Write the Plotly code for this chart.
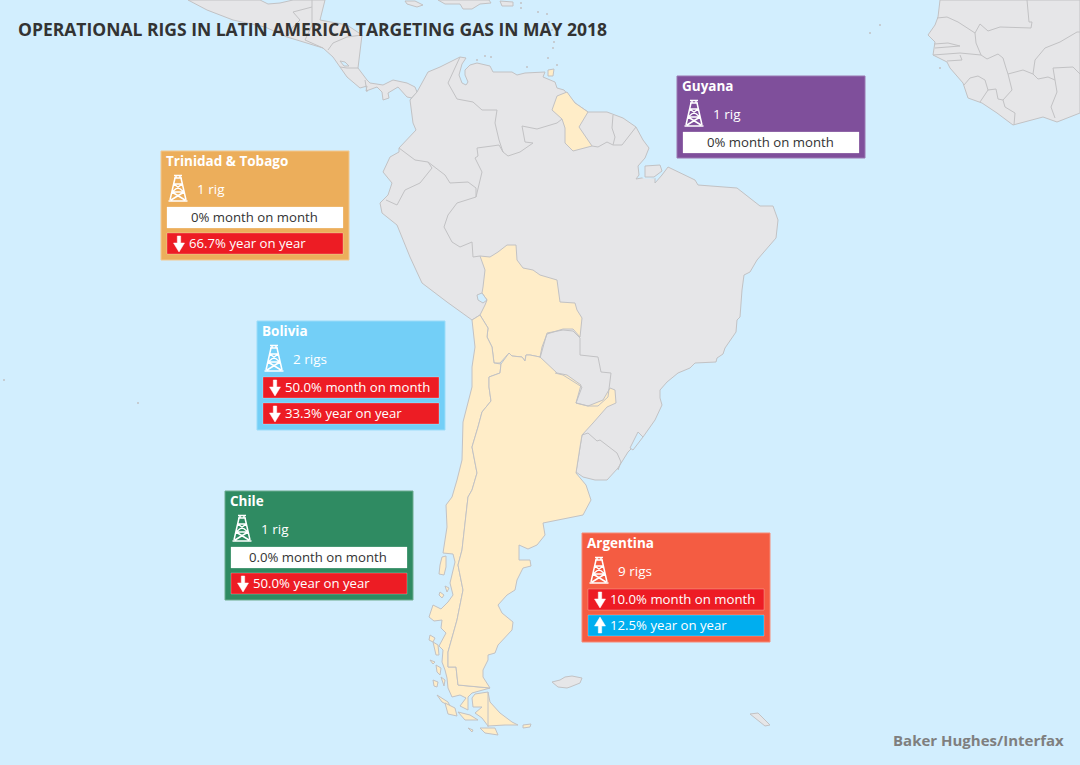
import plotly.graph_objects as go

# Text and values
title = "OPERATIONAL RIGS IN LATIN AMERICA TARGETING GAS IN MAY 2018"
source = "Baker Hughes/Interfax"
countries = ["Guyana", "Trinidad & Tobago", "Bolivia", "Chile", "Argentina"]
rig_labels = ["1 rig", "1 rig", "2 rigs", "1 rig", "9 rigs"]
mom_labels = ["0% month on month", "0% month on month", "50.0% month on month",
              "0.0% month on month", "10.0% month on month"]
mom_trend = ["flat", "flat", "down", "flat", "down"]
yoy_labels = [None, "66.7% year on year", "33.3% year on year",
              "50.0% year on year", "12.5% year on year"]
yoy_trend = [None, "down", "down", "down", "up"]

# Panel placement and colours
panel_left = [677, 161, 257, 225, 582]
panel_top = [76, 151, 321, 491, 533]
panel_fill = ["#7f4f9b", "#ecae5b", "#73cff7", "#2f8b62", "#f45c42"]
panel_edge = ["#9a79b2", "#f3c88f", "#9bdcf9", "#6dab8e", "#f78a76"]

# Map outlines, in the pixel grid of the picture
central_america = [(188, 0), (207, 10), (233, 20), (265, 27), (287, 37), (307, 43), (323, 48), (333, 57),
                   (340, 67), (347, 77), (360, 88), (367, 86), (366, 91), (377, 87), (382, 92), (383, 100),
                   (389, 98), (388, 93), (398, 87), (407, 97), (412, 98), (410, 100), (417, 92), (415, 87),
                   (407, 83), (393, 80), (383, 85), (370, 83), (367, 80), (358, 68), (362, 35), (347, 25),
                   (320, 20), (325, 0), (293, 0), (280, 3), (268, 4), (260, 0)]
south_america = [(417, 92), (428, 72), (440, 67), (460, 57), (466, 58), (462, 64), (459, 75), (462, 83),
                 (466, 85), (468, 82), (465, 75), (465, 70), (470, 65), (477, 63), (490, 66), (493, 72),
                 (512, 72), (517, 75), (525, 73), (545, 72), (543, 77), (555, 82), (557, 88), (564, 90),
                 (575, 103), (588, 112), (607, 112), (623, 118), (636, 127), (643, 140), (649, 148),
                 (645, 158), (638, 166), (639, 175), (636, 179), (647, 177), (655, 178), (655, 183),
                 (662, 175), (668, 167), (695, 180), (698, 185), (737, 188), (760, 206), (773, 206),
                 (778, 220), (776, 238), (757, 260), (750, 272), (744, 275), (742, 290), (740, 317),
                 (737, 320), (736, 332), (725, 348), (723, 354), (717, 358), (716, 362), (695, 363),
                 (690, 368), (678, 373), (667, 382), (660, 390), (660, 398), (662, 405), (655, 420),
                 (643, 437), (628, 452), (618, 468), (607, 480), (595, 480), (583, 477), (576, 472),
                 (580, 447), (582, 435), (540, 357), (480, 315), (472, 320), (447, 302), (422, 283),
                 (410, 257), (397, 225), (382, 213), (380, 203), (388, 195), (392, 183), (383, 172),
                 (390, 157), (399, 152), (399, 148), (416, 130), (413, 123), (410, 100)]
marajo_channel = [(644, 164), (661, 165), (663, 172), (655, 178), (643, 178), (642, 168)]
marajo = [(645, 166), (660, 165), (662, 171), (654, 177), (645, 177)]
africa = [(940, 0), (938, 17), (935, 25), (928, 35), (935, 42), (933, 55), (947, 62), (950, 68), (963, 83),
          (968, 98), (982, 103), (997, 113), (1013, 125), (1043, 117), (1057, 122), (1080, 113), (1080, 0)]
falklands = [(552, 682), (560, 680), (565, 677), (572, 676), (582, 678), (580, 683), (570, 687), (567, 688), (558, 687)]
south_georgia = [(750, 714), (758, 713), (770, 725), (765, 726), (755, 718)]
jamaica = [(405, 1), (415, 1), (423, 5), (417, 7), (407, 4)]
hispaniola = [(438, 0), (445, 4), (460, 4), (463, 9), (472, 9), (480, 4), (491, 3), (489, 0)]
puerto_rico = [(500, 1), (513, 2), (513, 6), (502, 6)]
gray_islands = [central_america, south_america, africa, falklands, south_georgia, jamaica, hispaniola, puerto_rico]

guyana = [(567, 92), (575, 103), (578, 105), (588, 112), (579, 127), (592, 146), (573, 151), (565, 143),
          (565, 128), (562, 119), (552, 110), (557, 96)]
trinidad = [(548, 70), (554, 69), (553, 76), (548, 76)]
bolivia = [(480, 256), (490, 257), (498, 252), (507, 245), (516, 245), (517, 260), (523, 268), (533, 270),
           (540, 275), (557, 280), (560, 302), (575, 303), (577, 310), (582, 318), (580, 337), (573, 329),
           (563, 329), (547, 334), (542, 347), (540, 357), (530, 355), (526, 355), (525, 361), (522, 357),
           (512, 356), (509, 353), (500, 363), (494, 363), (492, 347), (487, 337), (488, 328), (480, 315),
           (485, 305), (487, 300), (482, 293), (483, 287), (485, 270)]
chile = [(472, 320), (480, 315), (488, 328), (487, 337), (492, 347), (494, 363), (501, 364), (500, 373),
         (489, 377), (489, 387), (491, 401), (482, 412), (478, 427), (472, 447), (477, 473), (472, 490),
         (468, 497), (462, 550), (458, 565), (463, 590), (457, 620), (448, 652), (448, 667), (456, 667),
         (458, 685), (490, 688), (472, 693), (468, 697), (468, 710), (460, 706), (466, 698), (460, 695),
         (452, 697), (448, 688), (447, 678), (445, 670), (442, 662), (443, 650), (439, 646), (442, 640),
         (446, 633), (441, 628), (442, 620), (434, 621), (429, 617), (433, 605), (441, 609), (448, 602),
         (453, 595), (450, 583), (455, 562), (453, 554), (443, 553), (447, 527), (446, 505), (452, 497),
         (457, 480), (462, 460), (463, 422), (472, 387), (472, 367), (475, 347)]
argentina = [(501, 364), (509, 353), (512, 356), (522, 357), (525, 361), (526, 355), (530, 355), (540, 357),
             (557, 373), (567, 375), (581, 385), (576, 403), (588, 406), (603, 400), (610, 388), (615, 390),
             (616, 403), (607, 407), (593, 423), (582, 435), (580, 447), (576, 473), (586, 485), (591, 500),
             (583, 515), (543, 523), (545, 535), (537, 545), (528, 549), (519, 545), (519, 560), (530, 560),
             (531, 566), (523, 568), (517, 580), (515, 590), (507, 595), (498, 605), (502, 613), (513, 622),
             (512, 630), (498, 645), (495, 653), (488, 655), (488, 660), (483, 670), (483, 677), (490, 688),
             (458, 685), (456, 667), (448, 667), (448, 652), (457, 620), (463, 590), (458, 565), (462, 550),
             (468, 497), (472, 490), (477, 473), (472, 447), (478, 427), (482, 412), (491, 401), (489, 387),
             (489, 377), (500, 373)]
tierra_del_fuego = [(488, 692), (475, 694), (472, 698), (473, 707), (482, 707), (475, 713), (482, 718),
                    (488, 726), (505, 725), (518, 725), (512, 722), (500, 713), (490, 702)]
chiloe = [(442, 557), (446, 556), (446, 567), (444, 575), (439, 574), (440, 565)]
fjord_islands = [[(440, 592), (444, 595), (442, 598), (439, 595)],
                 [(445, 586), (449, 588), (447, 592)],
                 [(430, 635), (435, 638), (433, 642), (429, 640)],
                 [(433, 642), (438, 645), (439, 655), (436, 655)],
                 [(430, 660), (435, 662), (433, 664)],
                 [(436, 665), (441, 668), (440, 675), (437, 672)],
                 [(433, 680), (438, 682), (437, 687), (434, 686)],
                 [(441, 677), (445, 680), (444, 686)],
                 [(437, 695), (448, 702), (450, 706), (442, 702)],
                 [(445, 703), (455, 708), (457, 716), (448, 714)],
                 [(458, 712), (470, 715), (478, 720), (465, 720)],
                 [(468, 728), (473, 730), (472, 732)],
                 [(480, 728), (495, 728), (498, 735), (485, 733)],
                 [(523, 725), (531, 724), (530, 727), (523, 728)]]
yellow_areas = [guyana, trinidad, bolivia, chile, argentina, tierra_del_fuego, chiloe] + fjord_islands

titicaca = [(477, 295), (482, 293), (487, 300), (483, 303), (478, 300)]
lake_nicaragua = [(340, 61), (345, 62), (349, 66), (344, 66)]
lagoa_patos = [(638, 432), (643, 437), (633, 450), (630, 448)]
lakes = [titicaca, lake_nicaragua, lagoa_patos]

borders = [
    # South America
    [(460, 57), (452, 75), (448, 83), (457, 99), (473, 102), (482, 110), (497, 110), (495, 123), (499, 140), (503, 152)],
    [(503, 152), (508, 156), (520, 152), (533, 143), (525, 142), (522, 126), (537, 129), (557, 123), (562, 119)],
    [(613, 115), (612, 128), (615, 137), (613, 145)],
    [(592, 146), (598, 147), (607, 142), (613, 145), (622, 145), (636, 127)],
    [(503, 152), (499, 145), (492, 146), (477, 148), (478, 156), (475, 158), (482, 172), (480, 180), (476, 197)],
    [(399, 148), (415, 160), (428, 162), (445, 175), (450, 183), (468, 182), (476, 188), (476, 197)],
    [(428, 162), (432, 168), (420, 183), (405, 190), (397, 205), (386, 200)],
    [(476, 197), (457, 203), (448, 215), (444, 227), (452, 242), (460, 247), (472, 242), (473, 257), (480, 256)],
    [(540, 358), (547, 333), (563, 330), (573, 331), (580, 338), (580, 355), (598, 357), (601, 372), (611, 373),
     (608, 397), (598, 406), (588, 406), (576, 403), (582, 387), (563, 375), (555, 373)],
    [(582, 435), (588, 433), (597, 441), (600, 440), (617, 453), (621, 462), (618, 470)],
    [(488, 692), (488, 727)],
    # Central America
    [(293, 12), (312, 7), (312, 25), (305, 40)],
    [(312, 0), (312, 7)],
    [(293, 12), (300, 20), (293, 27), (287, 37)],
    [(305, 40), (323, 48)],
    [(328, 50), (333, 43), (347, 37), (362, 35)],
    [(340, 67), (347, 68), (358, 68)],
    [(365, 80), (367, 92)],
    # West Africa
    [(1027, 0), (1029, 22), (1032, 22), (1031, 28), (1000, 27), (988, 31), (980, 24), (975, 33), (958, 22), (947, 17), (937, 18)],
    [(975, 33), (976, 43), (981, 55), (960, 53), (933, 55)],
    [(934, 44), (948, 43), (960, 46), (935, 48)],
    [(960, 55), (962, 60), (947, 61)],
    [(981, 55), (987, 59), (998, 54), (1003, 58), (1006, 68), (1008, 74), (1012, 90), (1007, 95), (1003, 100),
     (998, 99), (996, 89), (988, 90), (985, 80), (978, 76), (970, 78), (964, 85)],
    [(988, 90), (980, 102)],
    [(1008, 74), (1023, 70), (1033, 74), (1038, 79), (1048, 77), (1055, 80), (1057, 92), (1051, 107), (1055, 118)],
    [(1003, 100), (1005, 107), (1015, 113), (1014, 125)],
    [(1033, 74), (1035, 60), (1045, 48), (1060, 42), (1077, 32), (1080, 32)],
    [(1055, 80), (1053, 68), (1073, 67), (1080, 74)],
]

# Very small islands, too small to draw as outlines
dot_x = [521, 521, 538, 547, 549, 552, 555, 554, 553, 548, 557, 477, 485, 491, 527, 940, 4, 138, 870, 880]
dot_y = [3, 8, 12, 14, 22, 30, 35, 42, 48, 58, 65, 60, 56, 57, 67, 68, 380, 403, 33, 25]

OCEAN = "#d2eefe"
LAND = "#e6e6e8"
YELLOW = "#ffedc8"
EDGE = "#c2c2c4"
FONT = "Open Sans"


def poly_trace(points, fill, edge=EDGE):
    xs = [p[0] for p in points] + [points[0][0]]
    ys = [p[1] for p in points] + [points[0][1]]
    return go.Scatter(x=xs, y=ys, mode="lines", fill="toself", fillcolor=fill,
                      line=dict(color=edge, width=1), hoverinfo="skip", showlegend=False)


def derrick_path(cx, top):
    # oil derrick icon, cx is the centre and top the upper edge
    lines = [[(-3, 3), (-8, 25)], [(3, 3), (8, 25)], [(-4, 0.5), (4, 0.5)], [(-4, 3), (4, 3)],
             [(-4, 9), (4, 9)], [(-6, 17), (6, 17)], [(-4, 9), (6, 17)], [(4, 9), (-6, 17)],
             [(-6, 17), (7, 25)], [(6, 17), (-7, 25)], [(-9.5, 26), (9.5, 26)], [(-2, 0), (-2, 3)], [(2, 0), (2, 3)]]
    parts = []
    for a, b in lines:
        parts.append(f"M{cx + a[0]},{top + a[1]} L{cx + b[0]},{top + b[1]}")
    return " ".join(parts)


def arrow_path(cx, top, trend):
    pts = [(-1.7, 3), (1.7, 3), (1.7, 10), (5.5, 10), (0, 19), (-5.5, 10), (-1.7, 10)]
    if trend == "up":
        pts = [(dx, 21 - dy) for dx, dy in pts]
    return "M" + " L".join(f"{cx + dx},{top + dy}" for dx, dy in pts) + " Z"


fig = go.Figure()
for area in gray_islands:
    fig.add_trace(poly_trace(area, LAND))
fig.add_trace(poly_trace(marajo_channel, OCEAN, OCEAN))
fig.add_trace(poly_trace(marajo, LAND))
for area in yellow_areas:
    fig.add_trace(poly_trace(area, YELLOW))
for lake in lakes:
    fig.add_trace(poly_trace(lake, OCEAN))
for border in borders:
    fig.add_trace(go.Scatter(x=[p[0] for p in border], y=[p[1] for p in border], mode="lines",
                             line=dict(color=EDGE, width=1), hoverinfo="skip", showlegend=False))
fig.add_trace(go.Scatter(x=dot_x, y=dot_y, mode="markers", marker=dict(color=EDGE, size=2),
                         hoverinfo="skip", showlegend=False))

shapes = []
notes = []


def add_row(x, y, label, trend):
    fill = {"flat": "#ffffff", "down": "#ed1c24", "up": "#00aeef"}[trend]
    shapes.append(dict(type="rect", x0=x + 6, x1=x + 182, y0=y, y1=y + 21, fillcolor=fill,
                       line=dict(color="rgba(255,255,255,0.25)", width=1)))
    if trend == "flat":
        notes.append(dict(x=x + 93, y=y + 9.5, text=label, xanchor="center", yanchor="middle",
                          showarrow=False, font=dict(family=FONT, size=13.2, color="#333333")))
    else:
        shapes.append(dict(type="path", path=arrow_path(x + 18, y, trend), fillcolor="white",
                           line=dict(color="white", width=0.5)))
        notes.append(dict(x=x + 26, y=y + 9.5, text=label, xanchor="left", yanchor="middle",
                          showarrow=False, font=dict(family=FONT, size=13.2, color="white")))


for i, name in enumerate(countries):
    x, y = panel_left[i], panel_top[i]
    height = 82 if yoy_labels[i] is None else 109
    shapes.append(dict(type="rect", x0=x, x1=x + 188, y0=y, y1=y + height, fillcolor=panel_fill[i],
                       line=dict(color=panel_edge[i], width=1)))
    notes.append(dict(x=x + 3, y=y + 10, text=f"<b>{name}</b>", xanchor="left", yanchor="middle",
                      showarrow=False, font=dict(family=FONT, size=13.5, color="white")))
    shapes.append(dict(type="path", path=derrick_path(x + 17, y + 24), line=dict(color="white", width=1.5)))
    notes.append(dict(x=x + 34, y=y + 38, text=rig_labels[i], xanchor="left", yanchor="middle",
                      showarrow=False, font=dict(family=FONT, size=13.5, color="white")))
    add_row(x, y + 56, mom_labels[i], mom_trend[i])
    if yoy_labels[i] is not None:
        add_row(x, y + 82, yoy_labels[i], yoy_trend[i])

notes.append(dict(x=16, y=29, text=f"<b>{title}</b>", xanchor="left", yanchor="middle", showarrow=False,
                  font=dict(family=FONT, size=17.5, color="#333333")))
notes.append(dict(x=1066, y=740, text=f"<b>{source}</b>", xanchor="right", yanchor="middle", showarrow=False,
                  font=dict(family=FONT, size=15, color="#7f7f7f")))

fig.update_layout(
    width=1080, height=765, margin=dict(l=0, r=0, t=0, b=0),
    paper_bgcolor=OCEAN, plot_bgcolor=OCEAN, showlegend=False,
    shapes=shapes, annotations=notes,
    xaxis=dict(range=[0, 1080], visible=False, fixedrange=True),
    yaxis=dict(range=[765, 0], visible=False, fixedrange=True),
)

fig.write_html("out.html", config=dict(displayModeBar=False),
               post_script="document.body.style.margin='0';")
